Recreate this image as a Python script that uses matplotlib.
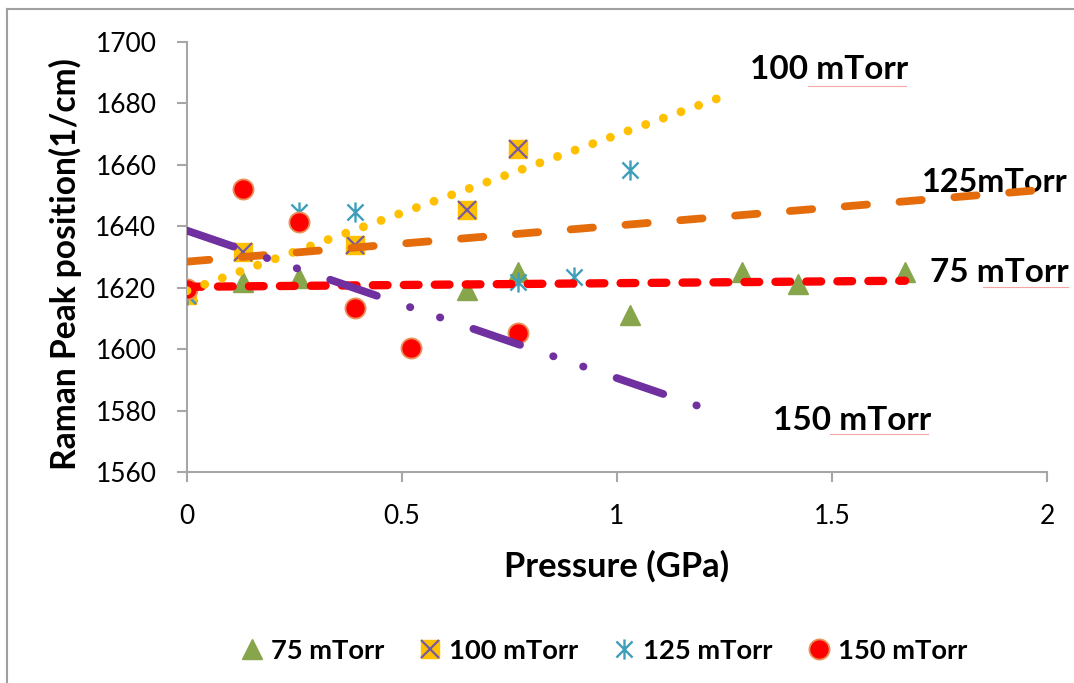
import numpy as np
import matplotlib
matplotlib.use("Agg")
import matplotlib.pyplot as plt
from matplotlib.path import Path
from matplotlib.lines import Line2D
from matplotlib.legend_handler import HandlerTuple

plt.rcParams["font.family"] = ["Lato", "DejaVu Sans"]
plt.rcParams["lines.scale_dashes"] = False

# Raman peak position vs pressure for four deposition pressures
p75 = [0.0, 0.13, 0.26, 0.65, 0.77, 1.03, 1.29, 1.42, 1.67]
r75 = [1619.0, 1622.0, 1623.2, 1619.4, 1625.0, 1611.1, 1625.1, 1621.2, 1625.2]

p100 = [0.0, 0.13, 0.39, 0.65, 0.77]
r100 = [1617.5, 1631.6, 1633.9, 1645.3, 1665.2]

p125 = [0.0, 0.26, 0.39, 0.77, 0.90, 1.03]
r125 = [1617.5, 1644.6, 1644.6, 1621.8, 1623.5, 1658.3]

p150 = [0.0, 0.13, 0.26, 0.39, 0.52, 0.77]
r150 = [1619.5, 1652.1, 1641.4, 1613.4, 1600.4, 1605.3]

series_names = ["75 mTorr", "100 mTorr", "125 mTorr", "150 mTorr"]
x_ticks = [0, 0.5, 1, 1.5, 2]
x_tick_labels = ["0", "0.5", "1", "1.5", "2"]
y_ticks = [1560, 1580, 1600, 1620, 1640, 1660, 1680, 1700]

# asterisk marker: an X with a vertical bar
ast = Path([(-1, -1), (1, 1), (-1, 1), (1, -1), (0, -1.25), (0, 1.25)],
           [Path.MOVETO, Path.LINETO, Path.MOVETO, Path.LINETO, Path.MOVETO, Path.LINETO])

GREEN = "#87A54B"
GOLD = "#FFC000"
XPURP = "#7A5A9E"
TEAL = "#3E9FBA"
RED = "#FF0000"
REDEDGE = "#E8925A"
ORANGE = "#E46C0A"
PURPLE = "#7030A0"

fig = plt.figure(figsize=(10.74, 6.83), dpi=100)
ax = fig.add_axes([187 / 1074, 1 - 472 / 683, 860 / 1074, 430 / 683])

# scatter markers
ax.plot(p75, r75, ls="none", marker="^", ms=14.5, color=GREEN, mec=GREEN, zorder=3)
ax.plot(p100, r100, ls="none", marker="s", ms=13, color=GOLD, mec=GOLD, zorder=3)
ax.plot(p100, r100, ls="none", marker="x", ms=13, mew=1.6, color=XPURP, zorder=3.1)
ax.plot(p125, r125, ls="none", marker=ast, ms=14.5, mew=1.7, color=TEAL, mfc="none", zorder=3.2)
ax.plot(p150, r150, ls="none", marker="o", ms=14.5, color=RED, mec=REDEDGE, mew=1.3, zorder=3.3)

# linear trendlines with their forward forecast
def trend(px, ry, x_end):
    k, b = np.polyfit(px, ry, 1)
    xs = np.array([0.0, x_end])
    return xs, k * xs + b

xs, ys = trend(p75, r75, 1.67)
ax.plot(xs, ys, color=RED, lw=6.0, dashes=(10.6, 11.7), dash_capstyle="round", zorder=4)
xs, ys = trend(p100, r100, 1.25)
ax.plot(xs, ys, color=GOLD, lw=6.4, dashes=(0.01, 13.5), dash_capstyle="round", zorder=4.1)
xs, ys = trend(p125, r125, 2.0)
ax.plot(xs, ys, color=ORANGE, lw=5.6, dashes=(16.1, 23.5), dash_capstyle="round", zorder=4.2)
xs, ys = trend(p150, r150, 1.2)
ax.plot(xs, ys, color=PURPLE, lw=5.6, dashes=(35.5, 25.2, 0.3, 22.5, 0.3, 25.2),
        dash_capstyle="round", zorder=4.3)

ax.set_xlim(0, 2)
ax.set_ylim(1560, 1700)
ax.set_xticks(x_ticks)
ax.set_xticklabels(x_tick_labels)
ax.set_yticks(y_ticks)
for s in ["top", "right"]:
    ax.spines[s].set_visible(False)
for s in ["left", "bottom"]:
    ax.spines[s].set_color("#A6A6A6")
    ax.spines[s].set_linewidth(1.5)
ax.tick_params(axis="both", direction="out", length=7, width=1.5, color="#A6A6A6",
               labelsize=19, labelcolor="black")
ax.tick_params(axis="y", pad=15)
ax.tick_params(axis="x", pad=16)

bold = dict(fontweight="bold", color="black")
fig.text(617 / 1074, 1 - 566 / 683, "Pressure (GPa)", ha="center", va="center", fontsize=24.8, **bold)
fig.text(65 / 1074, 1 - 264 / 683, "Raman Peak position(1/cm)", ha="center", va="center",
         rotation=90, fontsize=24.2, **bold)

# series labels next to the trendlines
ann = dict(ha="left", va="center", fontsize=24, clip_on=False, **bold)
ax.text(1.309, 1690.9, "100 mTorr", **ann)
ax.text(1.71, 1654.1, "125mTorr", ha="left", va="center", fontsize=23.3, clip_on=False, **bold)
ax.text(1.728, 1625.1, "75 mTorr", **ann)
ax.text(1.363, 1576.9, "150 mTorr", **ann)

# faint proofing underlines beneath "mTorr"
for x0, x1, yy in [(808, 906, 86), (983, 1068, 287), (830, 928, 434)]:
    fig.add_artist(Line2D([x0 / 1074, x1 / 1074], [1 - yy / 683] * 2, color="#F4A6A6", lw=0.8))

# legend
h75 = Line2D([], [], ls="none", marker="^", ms=14.5, color=GREEN)
h100a = Line2D([], [], ls="none", marker="s", ms=13, color=GOLD)
h100b = Line2D([], [], ls="none", marker="x", ms=13, mew=1.6, color=XPURP)
h125 = Line2D([], [], ls="none", marker=ast, ms=14.5, mew=1.7, color=TEAL, mfc="none")
h150 = Line2D([], [], ls="none", marker="o", ms=14.5, color=RED, mec=REDEDGE, mew=1.3)
fig.legend([h75, (h100a, h100b), h125, h150], series_names, loc="center",
           bbox_to_anchor=(604 / 1074, 1 - 651 / 683), ncol=4, frameon=False,
           handler_map={tuple: HandlerTuple(ndivide=1)},
           handlelength=0.8, handletextpad=0.3, columnspacing=1.28,
           prop=dict(weight="bold", size=19.7))

# frame around the chart area
fig.add_artist(Line2D([7.5 / 1074, 7.5 / 1074], [0, 1 - 9 / 683], color="#A0A0A0", lw=1.5))
fig.add_artist(Line2D([7 / 1074, 1], [1 - 9 / 683, 1 - 9 / 683], color="#A0A0A0", lw=1.5))

fig.savefig("out.png", dpi=100)
